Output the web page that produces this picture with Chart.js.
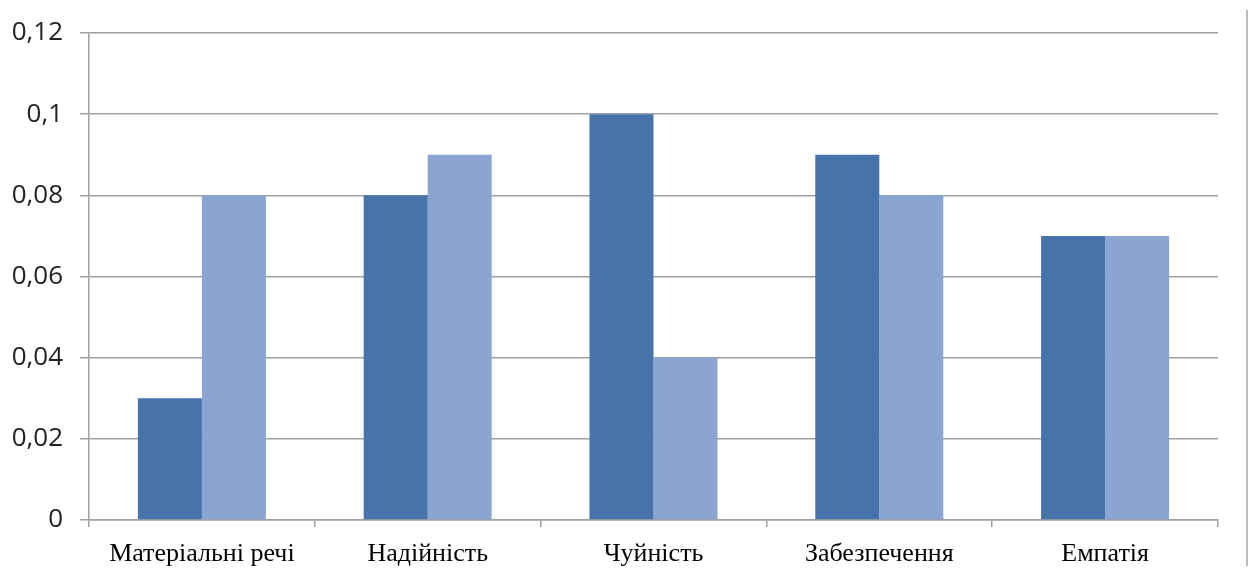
<!DOCTYPE html>
<html>
<head>
<meta charset="utf-8">
<script src="https://cdn.jsdelivr.net/npm/chart.js@4"></script>
<style>
  html, body { margin: 0; padding: 0; background: #fff; }
  #wrap { width: 1250px; height: 569px; }
</style>
</head>
<body>
<div id="wrap"><canvas id="chart" width="1250" height="569"></canvas></div>
<script>
// Дані діаграми
const categories = ['Матеріальні речі', 'Надійність', 'Чуйність', 'Забезпечення', 'Емпатія'];
const seriesA = [0.03, 0.08, 0.10, 0.09, 0.07];
const seriesB = [0.08, 0.09, 0.04, 0.08, 0.07];
const yTicks = [0, 0.02, 0.04, 0.06, 0.08, 0.1, 0.12];

// Сіра вертикальна лінія праворуч (край легенди)
const edgeLine = {
  id: 'edgeLine',
  afterDraw(chart) {
    const c = chart.ctx;
    c.save();
    c.strokeStyle = '#a6a6a6';
    c.lineWidth = 1.5;
    c.beginPath();
    c.moveTo(1247, 10);
    c.lineTo(1247, 566);
    c.stroke();
    c.restore();
  }
};

new Chart(document.getElementById('chart'), {
  type: 'bar',
  data: {
    labels: categories,
    datasets: [
      { data: seriesA, backgroundColor: '#4674aa', borderWidth: 0 },
      { data: seriesB, backgroundColor: '#8aa5d1', borderWidth: 0 }
    ]
  },
  options: {
    responsive: false,
    animation: false,
    layout: { padding: { top: 33, right: 32, left: 0, bottom: 0 } },
    plugins: { legend: { display: false }, tooltip: { enabled: false } },
    datasets: { bar: { categoryPercentage: 0.567, barPercentage: 1 } },
    scales: {
      x: {
        offset: true,
        grid: { offset: true, display: true, drawOnChartArea: false, color: '#a0a0a0', tickLength: 7, lineWidth: 1.5 },
        border: { color: '#a0a0a0', width: 1.5 },
        ticks: { color: '#000', padding: 12, font: { family: 'Liberation Serif', size: 26 } },
        afterFit(s) { s.height = 49; }
      },
      y: {
        min: 0, max: 0.12,
        afterBuildTicks(s) { s.ticks = yTicks.map(v => ({ value: v })); },
        grid: { color: '#a0a0a0', tickLength: 9, lineWidth: 1.5 },
        border: { color: '#a0a0a0', width: 1.5 },
        ticks: {
          color: '#222', padding: 17,
          font: { family: 'Open Sans', size: 26 },
          callback: v => String(v).replace('.', ',')
        },
        afterFit(s) { s.width = 89; }
      }
    }
  },
  plugins: [edgeLine]
});
</script>
</body>
</html>
